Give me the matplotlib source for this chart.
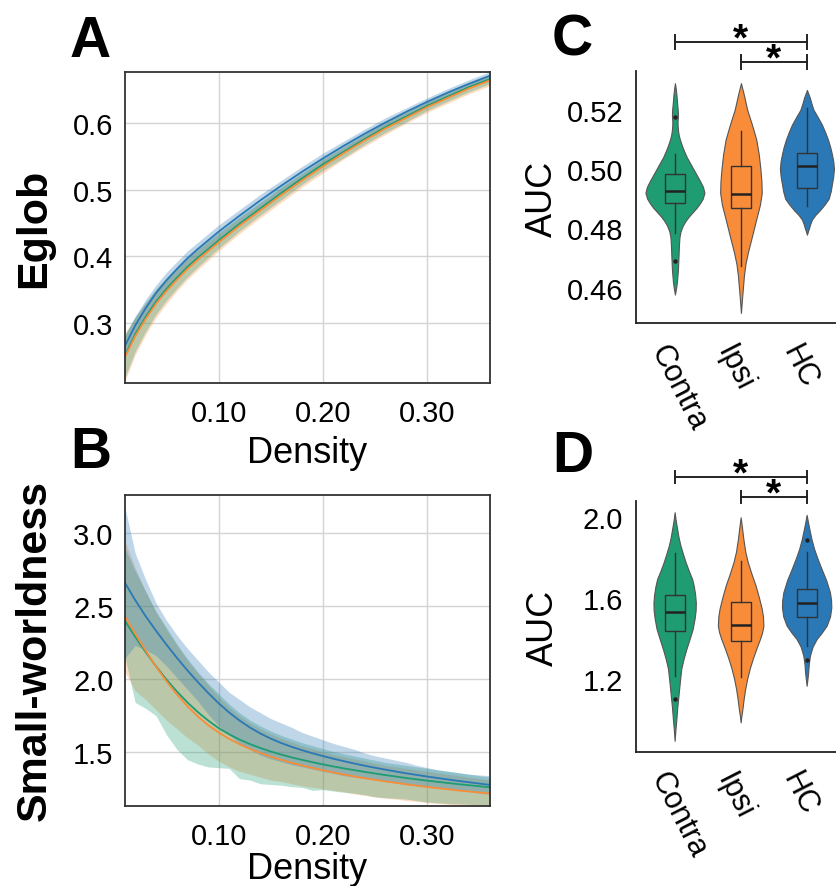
import numpy as np
import matplotlib
matplotlib.use("Agg")
import matplotlib.pyplot as plt
from matplotlib.transforms import ScaledTranslation

plt.rcParams['font.family'] = ['Liberation Sans', 'DejaVu Sans']

# ---------------- data ----------------
groups = ['Contra', 'Ipsi', 'HC']
colors = {'Contra': '#1f9c72', 'Ipsi': '#f98c38', 'HC': '#2a78b6'}

# Panel A: global efficiency vs density (mean and sd)
density_A = [0.01, 0.02, 0.03, 0.04, 0.05, 0.06, 0.07, 0.08, 0.09, 0.10, 0.12, 0.14,
             0.16, 0.18, 0.20, 0.22, 0.24, 0.26, 0.28, 0.30, 0.32, 0.34, 0.36]
eglob_hc = [0.265, 0.296, 0.322, 0.345, 0.364, 0.381, 0.397, 0.411, 0.424, 0.437, 0.461, 0.484,
            0.506, 0.527, 0.547, 0.566, 0.584, 0.601, 0.617, 0.632, 0.646, 0.659, 0.671]
eglob_ipsi = [0.248, 0.280, 0.306, 0.329, 0.348, 0.365, 0.381, 0.395, 0.408, 0.421, 0.446, 0.469,
              0.492, 0.514, 0.535, 0.555, 0.574, 0.592, 0.608, 0.624, 0.638, 0.652, 0.664]
eglob_contra = [0.250, 0.283, 0.309, 0.332, 0.351, 0.368, 0.384, 0.398, 0.411, 0.424, 0.449, 0.472,
                0.495, 0.517, 0.538, 0.557, 0.576, 0.594, 0.610, 0.626, 0.640, 0.654, 0.666]
eglob_hc_sd = [0.015, 0.014, 0.013, 0.012, 0.012, 0.011, 0.011, 0.010, 0.010, 0.010, 0.009, 0.009,
               0.008, 0.008, 0.008, 0.007, 0.007, 0.007, 0.006, 0.006, 0.006, 0.006, 0.006]
eglob_ipsi_sd = [0.036, 0.028, 0.024, 0.021, 0.019, 0.017, 0.016, 0.015, 0.014, 0.013, 0.012, 0.011,
                 0.011, 0.010, 0.010, 0.009, 0.009, 0.009, 0.008, 0.008, 0.008, 0.008, 0.008]
eglob_contra_sd = [0.033, 0.026, 0.022, 0.019, 0.017, 0.016, 0.015, 0.014, 0.013, 0.012, 0.011, 0.010,
                   0.010, 0.009, 0.009, 0.009, 0.008, 0.008, 0.008, 0.007, 0.007, 0.007, 0.007]

# Panel B: small-worldness vs density (mean, lower and upper band)
density_B = [0.01, 0.02, 0.03, 0.04, 0.05, 0.06, 0.07, 0.08, 0.09, 0.10, 0.11, 0.12,
             0.13, 0.14, 0.15, 0.16, 0.17, 0.18, 0.19, 0.20, 0.21, 0.22, 0.23, 0.24,
             0.25, 0.26, 0.27, 0.28, 0.29, 0.30, 0.31, 0.32, 0.33, 0.34, 0.35, 0.36]
sw_hc = [2.66, 2.54, 2.43, 2.33, 2.235, 2.145, 2.06, 1.98, 1.905, 1.835, 1.772, 1.717,
         1.669, 1.628, 1.593, 1.563, 1.537, 1.514, 1.493, 1.474, 1.456, 1.439, 1.423, 1.408,
         1.394, 1.381, 1.368, 1.356, 1.345, 1.334, 1.324, 1.314, 1.304, 1.295, 1.286, 1.277]
sw_ipsi = [2.43, 2.31, 2.195, 2.085, 1.985, 1.895, 1.815, 1.745, 1.685, 1.635, 1.592, 1.555,
           1.523, 1.495, 1.47, 1.448, 1.428, 1.41, 1.393, 1.377, 1.362, 1.348, 1.335, 1.323,
           1.312, 1.301, 1.291, 1.281, 1.272, 1.263, 1.255, 1.247, 1.239, 1.232, 1.225, 1.218]
sw_contra = [2.40, 2.29, 2.185, 2.087, 1.997, 1.915, 1.841, 1.775, 1.717, 1.665, 1.623, 1.587,
             1.556, 1.529, 1.505, 1.484, 1.465, 1.448, 1.432, 1.417, 1.403, 1.39, 1.378, 1.366,
             1.355, 1.344, 1.334, 1.324, 1.315, 1.306, 1.298, 1.29, 1.282, 1.275, 1.268, 1.261]
sw_hc_hi = [3.18, 2.86, 2.68, 2.52, 2.40, 2.30, 2.21, 2.13, 2.05, 1.98, 1.91, 1.86,
            1.81, 1.77, 1.73, 1.70, 1.67, 1.635, 1.61, 1.585, 1.56, 1.54, 1.52, 1.495,
            1.475, 1.46, 1.445, 1.43, 1.41, 1.395, 1.38, 1.37, 1.36, 1.35, 1.345, 1.34]
sw_hc_lo = [2.14, 2.23, 2.20, 2.16, 2.09, 2.01, 1.93, 1.85, 1.76, 1.68, 1.62, 1.56,
            1.52, 1.48, 1.455, 1.435, 1.415, 1.40, 1.385, 1.37, 1.355, 1.34, 1.33, 1.32,
            1.31, 1.30, 1.29, 1.28, 1.27, 1.26, 1.255, 1.25, 1.24, 1.232, 1.222, 1.212]
sw_ipsi_hi = [2.95, 2.76, 2.60, 2.46, 2.34, 2.23, 2.13, 2.04, 1.96, 1.88, 1.81, 1.75,
              1.70, 1.66, 1.625, 1.595, 1.57, 1.545, 1.525, 1.505, 1.485, 1.47, 1.455, 1.44,
              1.425, 1.41, 1.40, 1.39, 1.38, 1.37, 1.36, 1.35, 1.34, 1.33, 1.32, 1.31]
sw_ipsi_lo = [2.05, 1.92, 1.86, 1.79, 1.72, 1.66, 1.60, 1.55, 1.49, 1.44, 1.40, 1.37,
              1.35, 1.33, 1.31, 1.30, 1.285, 1.27, 1.26, 1.25, 1.24, 1.23, 1.215, 1.205,
              1.195, 1.185, 1.18, 1.17, 1.165, 1.155, 1.15, 1.145, 1.14, 1.13, 1.125, 1.12]
sw_contra_hi = [2.90, 2.74, 2.60, 2.46, 2.35, 2.24, 2.14, 2.05, 1.97, 1.90, 1.83, 1.77,
                1.72, 1.68, 1.645, 1.615, 1.59, 1.565, 1.545, 1.525, 1.505, 1.49, 1.475, 1.46,
                1.445, 1.43, 1.42, 1.41, 1.40, 1.39, 1.38, 1.37, 1.36, 1.35, 1.34, 1.33]
sw_contra_lo = [2.16, 1.84, 1.80, 1.75, 1.62, 1.52, 1.45, 1.42, 1.40, 1.395, 1.39, 1.32,
                1.31, 1.285, 1.28, 1.275, 1.265, 1.26, 1.24, 1.245, 1.235, 1.227, 1.22, 1.21,
                1.195, 1.19, 1.185, 1.18, 1.17, 1.16, 1.155, 1.15, 1.148, 1.145, 1.142, 1.14]

# Panel C: AUC of Eglob -- violin outlines (value, half width in category units) and box stats
violinC_contra_y = [0.4577, 0.460, 0.462, 0.466, 0.470, 0.474, 0.477, 0.479, 0.481, 0.4825, 0.484,
                    0.4855, 0.487, 0.4885, 0.490, 0.492, 0.494, 0.496, 0.498, 0.500, 0.502, 0.504,
                    0.506, 0.508, 0.510, 0.5115, 0.513, 0.5145, 0.516, 0.5175, 0.5185, 0.520,
                    0.521, 0.523, 0.525, 0.527, 0.529]
violinC_contra_w = [0.0, 0.018, 0.030, 0.045, 0.053, 0.060, 0.068, 0.085, 0.120, 0.160, 0.210,
                    0.270, 0.330, 0.380, 0.420, 0.447, 0.425, 0.380, 0.330, 0.280, 0.230, 0.180,
                    0.140, 0.105, 0.075, 0.057, 0.047, 0.041, 0.039, 0.044, 0.045, 0.042,
                    0.038, 0.030, 0.023, 0.013, 0.0]
violinC_ipsi_y = [0.4515, 0.456, 0.460, 0.464, 0.468, 0.472, 0.476, 0.480, 0.484, 0.488, 0.492,
                  0.496, 0.500, 0.505, 0.510, 0.515, 0.520, 0.525, 0.529]
violinC_ipsi_w = [0.0, 0.015, 0.030, 0.045, 0.068, 0.106, 0.152, 0.197, 0.242, 0.288, 0.315,
                  0.310, 0.295, 0.270, 0.232, 0.167, 0.095, 0.045, 0.0]
violinC_hc_y = [0.4779, 0.479, 0.480, 0.4815, 0.483, 0.4845, 0.486, 0.488, 0.490, 0.4925, 0.495,
                0.4975, 0.500, 0.5025, 0.505, 0.5075, 0.510, 0.5125, 0.515, 0.5175, 0.520,
                0.522, 0.524, 0.5267]
violinC_hc_w = [0.0, 0.015, 0.030, 0.050, 0.076, 0.125, 0.190, 0.265, 0.329, 0.360, 0.379,
                0.398, 0.409, 0.400, 0.379, 0.352, 0.318, 0.275, 0.227, 0.165, 0.100,
                0.070, 0.045, 0.0]
boxC_q1 = [0.4886, 0.4869, 0.4938]
boxC_med = [0.4925, 0.4917, 0.5009]
boxC_q3 = [0.4983, 0.5009, 0.5054]
boxC_lo = [0.4785, 0.4672, 0.4874]
boxC_hi = [0.5052, 0.5127, 0.5206]
outC = [[0.5175, 0.4689], [], []]

# Panel D: AUC of small-worldness
violinD_contra_y = [0.895, 0.95, 1.002, 1.06, 1.118, 1.18, 1.25, 1.30, 1.348, 1.40, 1.447, 1.50,
                    1.54, 1.579, 1.62, 1.66, 1.695, 1.735, 1.777, 1.82, 1.86, 1.90, 1.942, 1.98,
                    2.025]
violinD_contra_w = [0.0, 0.012, 0.026, 0.040, 0.058, 0.077, 0.100, 0.135, 0.177, 0.228, 0.273,
                    0.303, 0.318, 0.321, 0.310, 0.290, 0.265, 0.215, 0.167, 0.125, 0.088, 0.060,
                    0.038, 0.018, 0.0]
violinD_ipsi_y = [0.986, 1.02, 1.05, 1.10, 1.15, 1.20, 1.25, 1.30, 1.348, 1.40, 1.43, 1.464,
                  1.51, 1.55, 1.60, 1.662, 1.72, 1.777, 1.83, 1.893, 1.95, 2.0]
violinD_ipsi_w = [0.0, 0.012, 0.026, 0.045, 0.068, 0.098, 0.136, 0.183, 0.235, 0.295, 0.325,
                  0.345, 0.338, 0.318, 0.280, 0.227, 0.165, 0.109, 0.070, 0.041, 0.020, 0.0]
violinD_hc_y = [1.167, 1.20, 1.233, 1.275, 1.316, 1.36, 1.398, 1.43, 1.464, 1.51, 1.555, 1.59,
                1.629, 1.69, 1.744, 1.80, 1.843, 1.89, 1.942, 1.98, 2.012]
violinD_hc_w = [0.0, 0.012, 0.023, 0.033, 0.050, 0.090, 0.152, 0.230, 0.303, 0.355, 0.374,
                0.370, 0.353, 0.295, 0.227, 0.160, 0.114, 0.075, 0.041, 0.018, 0.0]
boxD_q1 = [1.436, 1.386, 1.505]
boxD_med = [1.533, 1.469, 1.576]
boxD_q3 = [1.617, 1.583, 1.645]
boxD_lo = [1.2165, 1.208, 1.365]
boxD_hi = [1.822, 1.786, 1.827]
outD = [[1.101], [], [1.889, 1.294]]

# ---------------- figure ----------------
W, H = 837, 887
fig = plt.figure(figsize=(W / 100, H / 100), dpi=100)


def rect(l, t, r, b):
    return [l / W, 1 - b / H, (r - l) / W, (b - t) / H]


axA = fig.add_axes(rect(124.7, 72.7, 490, 384))
axB = fig.add_axes(rect(124.7, 496, 490, 807.3))
axC = fig.add_axes(rect(636, 72.3, 847.2, 324.3))
axD = fig.add_axes(rect(635.7, 502.3, 846.9, 752.7))

TICK_FS = 21


def style_line_axes(ax):
    ax.grid(True, color='#d4d4d4', linewidth=1.0)
    ax.set_axisbelow(True)
    for s in ax.spines.values():
        s.set_color('#333333')
        s.set_linewidth(1.3)
    ax.tick_params(length=0, labelsize=TICK_FS)
    ax.tick_params(axis='x', pad=11.5)
    ax.tick_params(axis='y', pad=8)
    ax.set_xlim(0.01, 0.36)
    ax.set_xticks([0.10, 0.20, 0.30])
    ax.set_xticklabels(['0.10', '0.20', '0.30'])


# Panel A
dA = np.array(density_A)
for g, m, sd in [('Ipsi', eglob_ipsi, eglob_ipsi_sd), ('Contra', eglob_contra, eglob_contra_sd),
                 ('HC', eglob_hc, eglob_hc_sd)]:
    m = np.array(m); sd = np.array(sd)
    axA.fill_between(dA, m - sd, m + sd, color=colors[g], alpha=0.3, linewidth=0)
for g, m in [('Contra', eglob_contra), ('Ipsi', eglob_ipsi), ('HC', eglob_hc)]:
    axA.plot(dA, m, color=colors[g], linewidth=1.3)
style_line_axes(axA)
axA.set_ylim(0.21, 0.677)
axA.set_yticks([0.3, 0.4, 0.5, 0.6])
axA.set_yticklabels(['0.3', '0.4', '0.5', '0.6'])

# Panel B
dB = np.array(density_B)
for g, lo, hi in [('Ipsi', sw_ipsi_lo, sw_ipsi_hi), ('Contra', sw_contra_lo, sw_contra_hi),
                  ('HC', sw_hc_lo, sw_hc_hi)]:
    axB.fill_between(dB, lo, hi, color=colors[g], alpha=0.3, linewidth=0)
for g, m in [('Contra', sw_contra), ('Ipsi', sw_ipsi), ('HC', sw_hc)]:
    axB.plot(dB, m, color=colors[g], linewidth=1.3)
style_line_axes(axB)
axB.set_ylim(1.131, 3.257)
axB.set_yticks([1.5, 2.0, 2.5, 3.0])
axB.set_yticklabels(['1.5', '2.0', '2.5', '3.0'])


def violin_panel(ax, outlines, q1, med, q3, lo, hi, outl, ylim, yticks, yticklabels, xpad):
    for i, (g, (ys, ws)) in enumerate(zip(groups, outlines)):
        ys = np.array(ys); ws = np.array(ws)
        ax.fill_betweenx(ys, i - ws, i + ws, facecolor=colors[g], edgecolor='#555555',
                         linewidth=0.8, zorder=2)
    stats = [dict(q1=q1[i], med=med[i], q3=q3[i], whislo=lo[i], whishi=hi[i], fliers=[])
             for i in range(3)]
    ax.bxp(stats, positions=[0, 1, 2], widths=0.3, patch_artist=True, showcaps=False,
           showfliers=False, manage_ticks=False,
           boxprops=dict(facecolor='none', edgecolor='#333333', linewidth=1.0),
           medianprops=dict(color='#222222', linewidth=1.8),
           whiskerprops=dict(color='#333333', linewidth=1.0), zorder=3)
    for i in range(3):
        if outl[i]:
            ax.plot([i] * len(outl[i]), outl[i], 'o', ms=2.2, color='#222222', zorder=4)
    ax.set_xlim(-0.59, 2.61)
    ax.set_ylim(*ylim)
    ax.set_yticks(yticks)
    ax.set_yticklabels(yticklabels)
    ax.set_xticks([0, 1, 2])
    ax.set_xticklabels(groups, rotation=-63, ha='left', va='top', rotation_mode='anchor',
                       fontsize=22)
    ax.tick_params(length=0)
    ax.tick_params(axis='y', labelsize=TICK_FS, pad=9)
    ax.tick_params(axis='x', pad=xpad)
    for lab in ax.get_xticklabels():
        lab.set_transform(lab.get_transform() + ScaledTranslation(-4 / 100, 0, fig.dpi_scale_trans))
    for s in ['top', 'right']:
        ax.spines[s].set_visible(False)
    for s in ['left', 'bottom']:
        ax.spines[s].set_color('#222222')
        ax.spines[s].set_linewidth(1.3)


violin_panel(axC, [(violinC_contra_y, violinC_contra_w), (violinC_ipsi_y, violinC_ipsi_w),
                   (violinC_hc_y, violinC_hc_w)],
             boxC_q1, boxC_med, boxC_q3, boxC_lo, boxC_hi, outC,
             (0.448, 0.533), [0.46, 0.48, 0.50, 0.52], ['0.46', '0.48', '0.50', '0.52'], 11.5)
violin_panel(axD, [(violinD_contra_y, violinD_contra_w), (violinD_ipsi_y, violinD_ipsi_w),
                   (violinD_hc_y, violinD_hc_w)],
             boxD_q1, boxD_med, boxD_q3, boxD_lo, boxD_hi, outD,
             (0.841, 2.079), [1.2, 1.6, 2.0], ['1.2', '1.6', '2.0'], 11)


def sig_bar(ax, x1, x2, ybar, half):
    tr = ax.get_xaxis_transform()
    kw = dict(color='#222222', linewidth=1.4, transform=tr, clip_on=False)
    ax.plot([x1, x2], [ybar, ybar], **kw)
    ax.plot([x1, x1], [ybar - half, ybar + half], **kw)
    ax.plot([x2, x2], [ybar - half, ybar + half], **kw)
    ax.annotate('*', xy=((x1 + x2) / 2, ybar), xycoords=tr, xytext=(0, -5.5),
                textcoords='offset points', ha='center', va='baseline',
                fontsize=28, fontweight='bold', annotation_clip=False)


sig_bar(axC, 0, 2, 1.1175, 0.0278)
sig_bar(axC, 1, 2, 1.0381, 0.0278)
sig_bar(axD, 0, 2, 1.0982, 0.024)
sig_bar(axD, 1, 2, 1.016, 0.024)

# Axis titles
fig.text(34.5 / W, 1 - 228 / H, 'Eglob', rotation=90, ha='center', va='center',
         fontsize=31, fontweight='bold')
fig.text(35 / W, 1 - 651 / H, 'Small-worldness', rotation=90, ha='center', va='center',
         fontsize=31, fontweight='bold')
fig.text(307 / W, 1 - 462.6 / H, 'Density', ha='center', va='baseline', fontsize=26)
fig.text(307 / W, 1 - 879 / H, 'Density', ha='center', va='baseline', fontsize=26)
fig.text(542 / W, 1 - 198.5 / H, 'AUC', rotation=90, ha='center', va='center', fontsize=26)
fig.text(543.8 / W, 1 - 628 / H, 'AUC', rotation=90, ha='center', va='center', fontsize=26)

# Panel letters
for letter, x, y in [('A', 70, 57), ('B', 70, 468), ('C', 552, 56), ('D', 552, 472)]:
    fig.text(x / W, 1 - y / H, letter, ha='left', va='baseline', fontsize=41, fontweight='bold')

fig.savefig('out.png', dpi=100)
